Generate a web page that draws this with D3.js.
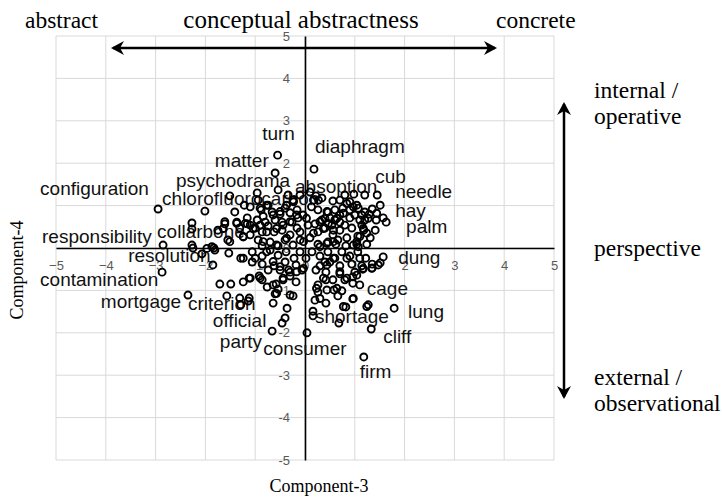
<!DOCTYPE html>
<html>
<head>
<meta charset="utf-8">
<script src="https://cdn.jsdelivr.net/npm/d3@7"></script>
<style>
	body { margin: 0; background: #fff; }
	svg { display: block; }
</style>
</head>
<body>
<svg id="chart"></svg>
<script>
// tick values on both axes
const ticks = [-5, -4, -3, -2, -1, 0, 1, 2, 3, 4, 5];

// words (component-3, component-4)
const points = [
	[-0.55, 2.19], [-0.60, 1.77], [0.18, 1.86],
	[-1.51, 1.23], [-0.96, 1.30], [-0.54, 1.37], [-0.34, 1.25], [-0.24, 1.13], [-0.10, 1.25], [0.10, 1.32], [0.22, 1.23], [0.34, 1.18],
	[0.80, 1.25], [0.98, 1.27], [1.20, 1.25], [1.45, 1.25], [0.70, 1.13], [0.56, 1.11],
	[-2.95, 0.92], [-2.01, 0.87], [-1.10, 0.97], [-0.88, 0.90], [-0.74, 1.01], [-0.66, 0.85], [-0.40, 0.94], [-0.30, 0.83], [-0.16, 0.90], [-0.04, 0.78],
	[-1.16, 0.71], [-0.96, 0.66], [-0.84, 0.75], [-0.60, 0.66], [-0.46, 0.61], [-0.26, 0.61], [-0.14, 0.71],
	[0.26, 0.90], [0.46, 0.85], [0.60, 0.90], [0.76, 0.94], [0.90, 0.90], [1.04, 1.01], [1.20, 0.85], [1.35, 0.92], [1.51, 1.01],
	[1.57, 0.71], [1.43, 0.66], [1.29, 0.80], [1.10, 0.66], [0.90, 0.71], [0.70, 0.61], [0.50, 0.71], [0.34, 0.66], [0.20, 0.57],
	[1.63, 0.61], [-2.27, 0.59], [-2.27, 0.45],
	[-1.61, 0.57], [-1.37, 0.61], [-1.16, 0.57], [-1.24, 0.26], [-1.55, 0.19], [-1.53, -0.12], [-1.29, -0.24], [-1.75, 0.42],
	[-1.00, 0.47], [-0.86, 0.38], [-0.74, 0.52], [-0.62, 0.38], [-0.46, 0.42], [-0.30, 0.31], [-0.16, 0.47], [-0.10, 0.19],
	[-0.40, 0.19], [-0.70, 0.14], [-0.94, 0.19], [-1.10, 0.31],
	[0.26, 0.38], [0.40, 0.47], [0.56, 0.31], [0.70, 0.42], [0.84, 0.24], [0.94, 0.47], [1.06, 0.28], [1.18, 0.42],
	[1.31, 0.24], [1.24, 0.09], [1.04, 0.09], [0.82, 0.05], [0.62, 0.09], [0.46, 0.14], [0.26, 0.09], [0.10, 0.24],
	[-2.85, 0.07], [-2.27, 0.07], [-2.25, 0.00], [-1.83, 0.00],
	[-2.07, -0.14], [-1.85, -0.40], [-2.87, -0.57],
	[-1.06, -0.09], [-0.86, -0.19], [-0.70, -0.05], [-0.54, -0.17], [-0.38, -0.09], [-0.22, -0.24], [-0.10, -0.09], [-0.18, -0.40],
	[-0.40, -0.33], [-0.62, -0.42], [-0.86, -0.38], [-1.06, -0.33], [-0.74, -0.52], [-0.50, -0.52], [-0.30, -0.57],
	[0.14, -0.09], [0.30, -0.19], [0.46, -0.09], [0.60, -0.24], [0.74, -0.09], [0.90, -0.19], [1.06, -0.09], [1.22, -0.24],
	[1.35, -0.38], [1.14, -0.42], [0.94, -0.38], [0.70, -0.42], [0.50, -0.33], [0.30, -0.42], [0.42, -0.57], [0.70, -0.61],
	[1.00, -0.57], [1.47, -0.40], [1.57, -0.21],
	[-1.71, -0.85], [-1.49, -0.85], [-1.24, -0.80], [-1.12, -0.71], [-0.92, -0.66], [-0.86, -0.75], [-0.76, -0.92], [-0.58, -0.85],
	[-0.44, -0.75], [-0.30, -0.66], [-0.18, -0.80],
	[-1.57, -1.13], [-1.31, -1.18], [-1.12, -1.18], [-2.35, -1.11],
	[-0.60, -1.08], [-0.54, -0.97], [-0.24, -1.13], [-0.64, -1.30],
	[0.26, -0.87], [0.42, -0.75], [0.44, -0.99], [0.58, -0.99], [0.66, -1.13], [0.74, -1.01], [0.96, -0.83], [1.10, -0.87],
	[0.96, -0.68], [1.16, -0.50], [1.35, -0.47], [1.51, -0.35], [0.26, -1.04], [0.20, -1.23],
	[-1.14, -1.25], [-1.29, -1.34],
	[-0.36, -1.42], [-0.40, -1.65], [-0.46, -1.77], [-0.66, -1.96], [0.04, -2.00],
	[0.16, -1.49], [0.16, -1.60], [0.42, -1.30], [0.82, -1.39], [0.96, -1.20], [0.68, -1.77], [1.27, -1.34], [1.33, -1.91], [1.79, -1.42],
	[1.18, -2.57],
	[-0.94, 1.13], [-1.22, 1.01], [-1.41, 0.85], [-1.31, 0.47], [-0.80, 0.61], [-0.50, 0.80], [-0.24, 0.07], [-0.54, 0.05],
	[-0.86, 0.05], [-1.00, -0.24], [0.02, -0.24], [-0.06, -0.52], [0.06, 0.54],
	[0.60, 0.66], [0.80, 0.54], [1.00, 0.78], [1.14, 0.54], [1.41, 0.42], [0.66, 0.19], [0.84, -0.24], [1.10, -0.24],
	[0.40, -0.33], [0.22, -0.52], [0.80, -0.75], [0.56, -0.75],
	// right core
	[0.17, 1.13], [0.27, 1.13], [0.13, 0.97], [0.03, 0.70], [0.44, 0.86], [0.40, 0.70], [0.30, 0.62], [0.47, 0.58],
	[0.54, 0.54], [0.37, 0.46], [0.57, 0.42], [0.64, 0.70], [0.70, 0.78], [0.77, 0.82], [0.84, 1.05], [0.90, 1.09],
	[0.97, 0.97], [1.07, 0.94], [1.14, 0.78], [1.20, 0.66], [1.27, 0.70], [1.44, 0.82], [1.17, 0.46], [1.24, 0.35],
	[1.10, 0.27], [1.04, 0.15], [0.97, 0.07], [1.07, 0.03], [0.57, 0.15], [0.44, 0.11], [0.30, 0.03], [0.17, 0.35],
	// left core
	[-1.61, 0.62], [-1.64, 0.46], [-1.37, 0.58], [-1.20, 0.58], [-1.10, 0.54], [-1.04, 0.46], [-1.24, 0.27], [-0.90, 0.94],
	[-0.77, 1.01], [-0.64, 0.78], [-0.50, 0.86], [-0.37, 1.01], [-0.23, 1.09], [-0.17, 0.78], [-0.30, 0.62], [-0.44, 0.54],
	[-0.57, 0.46], [-0.77, 0.38], [-0.90, 0.54], [-0.84, 0.15], [-0.57, 0.07], [-0.37, 0.23], [-0.10, 0.38], [-0.03, 0.15],
	[-1.97, -0.01], [-1.87, 0.03], [-1.51, 0.15],
	// lower core
	[-1.81, -0.05], [-1.24, -0.24], [-0.77, -0.09], [-0.64, -0.32], [-0.50, -0.44], [-0.33, -0.52], [-0.17, -0.56], [-0.03, -0.48],
	[-0.44, -0.71], [-0.64, -0.87], [-0.90, -0.71], [-1.10, -0.71], [-0.30, -1.11], [-0.57, -1.07], [0.23, -0.95], [0.37, -0.71],
	[0.30, -1.19], [0.44, -0.40], [0.57, -0.24], [0.70, -0.56], [0.84, -0.71], [1.04, -0.64], [1.17, -0.48], [1.34, -0.48],
	[0.64, -0.95], [0.97, -1.19], [0.77, -1.38], [1.24, -1.38]
];

// labelled words and where their text starts (data units)
const words = ["turn", "diaphragm", "matter", "psychodrama", "absoption", "configuration", "chlorofluorocarbon",
	"cub", "needle", "hay", "palm", "responsibility", "collarbone", "resolution", "dung", "contamination",
	"cage", "mortgage", "criterion", "lung", "shortage", "official", "cliff", "party", "consumer", "firm"];
const wordX = [-0.86, 0.20, -1.81, -2.59, -0.20, -5.32, -2.87,
	1.41, 1.81, 1.81, 2.03, -5.28, -2.97, -3.55, 1.87, -5.32,
	1.24, -4.10, -2.35, 2.07, 0.20, -1.85, 1.57, -1.71, -0.84, 1.10];
const wordY = [2.55, 2.24, 1.91, 1.44, 1.30, 1.25, 1.01,
	1.53, 1.18, 0.73, 0.35, 0.12, 0.24, -0.33, -0.38, -0.90,
	-1.11, -1.42, -1.46, -1.65, -1.77, -1.86, -2.24, -2.36, -2.52, -3.07];

let width = 722;
let height = 502;

let svg = d3.select("#chart")
	.attr("width", width)
	.attr("height", height);

let x = d3.scaleLinear().domain([-5, 5]).range([56, 554]);
let y = d3.scaleLinear().domain([-5, 5]).range([460, 36]);

// gridlines
let grid = svg.append("g").attr("class", "grid");
grid.selectAll(".vgrid")
	.data(ticks)
	.enter().append("line")
	.attr("x1", function(d) { return x(d); })
	.attr("x2", function(d) { return x(d); })
	.attr("y1", y(-5))
	.attr("y2", y(5))
	.attr("stroke", "#d9d9d9")
	.attr("stroke-width", 1);
grid.selectAll(".hgrid")
	.data(ticks)
	.enter().append("line")
	.attr("y1", function(d) { return y(d); })
	.attr("y2", function(d) { return y(d); })
	.attr("x1", x(-5))
	.attr("x2", x(5))
	.attr("stroke", "#d9d9d9")
	.attr("stroke-width", 1);

// axes through the origin
let xAxis = svg.append("g")
	.attr("transform", "translate(0," + y(0) + ")")
	.call(d3.axisBottom(x).tickValues(ticks).tickSize(0).tickPadding(13));
let yAxis = svg.append("g")
	.attr("transform", "translate(" + x(0) + ",0)")
	.call(d3.axisLeft(y).tickValues(ticks).tickSize(0).tickPadding(15)
		.tickFormat(function(d) { return String(d); }));
svg.selectAll(".domain").attr("stroke", "#000").attr("stroke-width", 1.6);
svg.selectAll(".tick text")
	.attr("fill", "#595959")
	.style("font-family", "'Liberation Sans', Arial, sans-serif")
	.style("font-size", "13px");

// word labels
svg.append("g")
	.selectAll("text")
	.data(words)
	.enter().append("text")
	.attr("x", function(d, i) { return x(wordX[i]); })
	.attr("y", function(d, i) { return y(wordY[i]); })
	.style("font-family", "'Liberation Sans', Arial, sans-serif")
	.style("font-size", "19px")
	.attr("fill", "#111")
	.text(function(d) { return d; });

// points
svg.append("g")
	.attr("class", "nodes")
	.selectAll("circle")
	.data(points)
	.enter().append("circle")
	.attr("cx", function(d) { return x(d[0]); })
	.attr("cy", function(d) { return y(d[1]); })
	.attr("r", 3.5)
	.attr("fill", "none")
	.attr("stroke", "#000")
	.attr("stroke-width", 1.9);

// arrows
let defs = svg.append("defs");
defs.append("marker")
	.attr("id", "head")
	.attr("viewBox", "-2 -8 16 16")
	.attr("refX", 10)
	.attr("refY", 0)
	.attr("markerWidth", 16)
	.attr("markerHeight", 16)
	.attr("markerUnits", "userSpaceOnUse")
	.attr("orient", "auto-start-reverse")
	.append("path")
	.attr("d", "M-1,-7 L12,0 L-1,7 L3,0 Z")
	.attr("fill", "#000");

svg.append("line")
	.attr("x1", 113).attr("x2", 495)
	.attr("y1", 48).attr("y2", 48)
	.attr("stroke", "#000").attr("stroke-width", 2.5)
	.attr("marker-start", "url(#head)")
	.attr("marker-end", "url(#head)");
svg.append("line")
	.attr("x1", 564).attr("x2", 564)
	.attr("y1", 104).attr("y2", 397)
	.attr("stroke", "#000").attr("stroke-width", 2.5)
	.attr("marker-start", "url(#head)")
	.attr("marker-end", "url(#head)");

// serif annotations
let serif = "'Liberation Serif', 'Times New Roman', serif";
let notes = svg.append("g")
	.style("font-family", serif)
	.attr("fill", "#000");
notes.append("text").attr("x", 25).attr("y", 28).style("font-size", "23.5px").text("abstract");
notes.append("text").attr("x", 301).attr("y", 28).attr("text-anchor", "middle").style("font-size", "25px").text("conceptual abstractness");
notes.append("text").attr("x", 496).attr("y", 28).style("font-size", "23.5px").text("concrete");
notes.append("text").attr("x", 594).attr("y", 98).style("font-size", "23.5px").text("internal /");
notes.append("text").attr("x", 594).attr("y", 124).style("font-size", "23.5px").text("operative");
notes.append("text").attr("x", 594).attr("y", 256).style("font-size", "23.5px").text("perspective");
notes.append("text").attr("x", 594).attr("y", 385).style("font-size", "23.5px").text("external /");
notes.append("text").attr("x", 594).attr("y", 411).style("font-size", "23.5px").text("observational");

// axis titles
notes.append("text")
	.attr("transform", "translate(23,270) rotate(-90)")
	.attr("text-anchor", "middle")
	.style("font-size", "18px")
	.text("Component-4");
notes.append("text")
	.attr("x", 319).attr("y", 492)
	.attr("text-anchor", "middle")
	.style("font-size", "18px")
	.text("Component-3");
</script>
</body>
</html>
